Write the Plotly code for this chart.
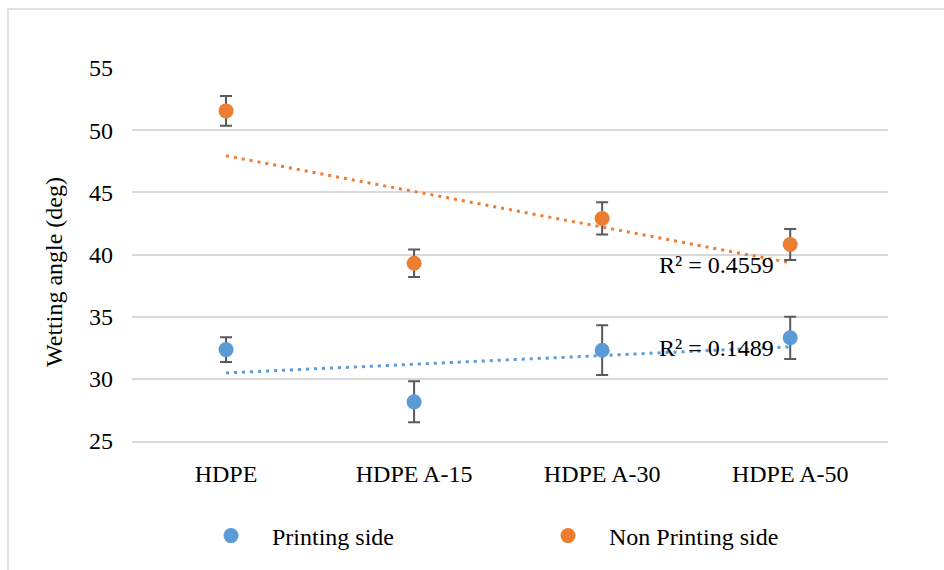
import numpy as np
import plotly.graph_objects as go

categories = ["HDPE", "HDPE A-15", "HDPE A-30", "HDPE A-50"]
printing = [32.35, 28.15, 32.3, 33.3]
printing_err = [1.0, 1.65, 2.0, 1.7]
non_printing = [51.55, 39.3, 42.9, 40.8]
non_printing_err = [1.2, 1.1, 1.3, 1.25]
r2_labels = ["R² = 0.4559", "R² = 0.1489"]
y_ticks = [25, 30, 35, 40, 45, 50, 55]

BLUE = "#5B9BD5"
ORANGE = "#ED7D31"
FONT = "Liberation Serif"
FS = 24

xi = np.arange(len(categories))

fig = go.Figure()

# trendlines (linear fits)
for vals, col in [(printing, BLUE), (non_printing, ORANGE)]:
    m, b = np.polyfit(xi, vals, 1)
    fig.add_trace(go.Scatter(
        x=xi, y=m * xi + b, mode="lines", showlegend=False, hoverinfo="skip",
        line=dict(color=col, width=3, dash="3px,5px")))

for name, vals, err, col in [("Printing side", printing, printing_err, BLUE),
                             ("Non Printing side", non_printing, non_printing_err, ORANGE)]:
    fig.add_trace(go.Scatter(
        x=xi, y=vals, mode="markers", name=name,
        marker=dict(color=col, size=15),
        error_y=dict(type="data", array=err, visible=True, color="#595959",
                     thickness=2, width=6)))

fig.add_annotation(x=2.29, y=39.15, xref="x", yref="y", text=r2_labels[0],
                   showarrow=False, xanchor="left", yanchor="middle",
                   font=dict(family=FONT, size=FS, color="#000000"))
fig.add_annotation(x=2.29, y=32.45, xref="x", yref="y", text=r2_labels[1],
                   showarrow=False, xanchor="left", yanchor="middle",
                   font=dict(family=FONT, size=FS, color="#000000"))

# y-axis title
fig.add_annotation(x=(54 - 132) / 756, y=(441 - 272) / 373, xref="paper", yref="paper",
                   text="Wetting angle (deg)", textangle=-90, showarrow=False,
                   xanchor="center", yanchor="middle",
                   font=dict(family=FONT, size=FS, color="#000000"))

# outer chart border
fig.add_shape(type="rect", xref="paper", yref="paper",
              x0=(8 - 132) / 756, x1=(950 - 132) / 756,
              y0=(441 - 580) / 373, y1=(441 - 9) / 373,
              line=dict(color="#D9D9D9", width=1.5), layer="below")

fig.update_layout(
    width=944, height=570,
    margin=dict(l=132, r=56, t=68, b=129),
    paper_bgcolor="white", plot_bgcolor="white",
    font=dict(family=FONT, size=FS, color="#000000"),
    xaxis=dict(
        tickmode="array", tickvals=list(xi), ticktext=categories,
        range=[-0.5, 3.52], showgrid=False, zeroline=False,
        showline=True, linecolor="#D9D9D9", linewidth=1.5,
        ticks="", ticklabelstandoff=10,
        tickfont=dict(family=FONT, size=FS, color="#000000")),
    yaxis=dict(
        range=[25, 55], tickvals=y_ticks, showgrid=True, gridcolor="#D9D9D9",
        gridwidth=1.5, zeroline=False, ticks="", ticklabelstandoff=18,
        tickfont=dict(family=FONT, size=FS, color="#000000")),
    legend=dict(orientation="h", x=(190 - 132) / 756, xanchor="left",
                y=(441 - 536) / 373, yanchor="middle",
                itemwidth=72, entrywidth=250,
                font=dict(family=FONT, size=FS, color="#000000")),
)

fig.write_html("out.html")
